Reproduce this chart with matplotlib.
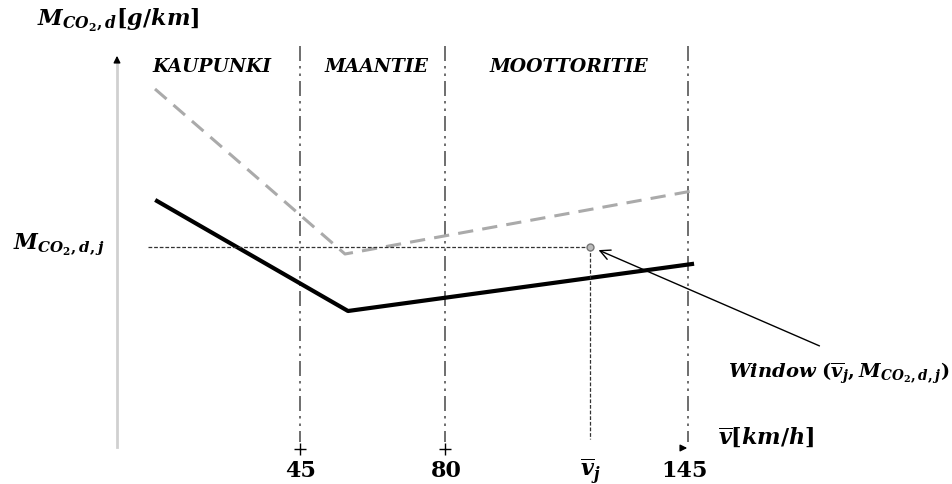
import matplotlib.pyplot as plt

plt.rcParams["mathtext.fontset"] = "custom"
plt.rcParams["mathtext.it"] = "DejaVu Serif:italic:bold"
plt.rcParams["mathtext.rm"] = "DejaVu Serif:bold"
plt.rcParams["mathtext.bf"] = "DejaVu Serif:bold"

# ── Schematic geometry (picture coordinates, y grows downward) ─────────────
zone_x = [300, 445, 688]                 # 45, 80, 145 km/h boundaries
zone_names = ["KAUPUNKI", "MAANTIE", "MOOTTORITIE"]
zone_label_x = [212, 376, 569]
tick_x = [301, 446, 590, 685]
tick_labels = ["45", "80", r"$\overline{v}_j$", "145"]

solid_x = [157, 348, 692]
solid_y = [202, 312, 265]
dashed_x = [155, 345, 692]
dashed_y = [90, 255, 192]

vj_x = 590
m_j_y = 248

fig = plt.figure(figsize=(9.52, 4.85), dpi=100)
ax = fig.add_axes([0, 0, 1, 1])
ax.set_xlim(0, 952)
ax.set_ylim(485, 0)
ax.axis("off")

serif = "DejaVu Serif"

# y axis
ax.plot([117, 117], [448, 62], color="#d0d0d0", lw=2)
ax.annotate("", xy=(117, 54), xytext=(117, 66),
            arrowprops=dict(arrowstyle="-|>", color="black", lw=1, mutation_scale=10))
ax.text(37, 20, r"$M_{CO_2,d}[g/km]$", fontsize=16, va="center", ha="left")

# zone boundaries
for x in zone_x:
    ax.plot([x, x], [47, 443], color="#555555", lw=1.2,
            linestyle=(0, (9, 3, 1.5, 3, 1.5, 3)))
for x in zone_x[:2]:
    ax.plot(x, 450, marker="+", color="black", ms=8, mew=1)
ax.annotate("", xy=(690, 449), xytext=(678, 449),
            arrowprops=dict(arrowstyle="-|>", color="black", lw=1, mutation_scale=10))

for x, name in zip(zone_label_x, zone_names):
    ax.text(x, 67, name, fontsize=13.5, family=serif, weight="bold",
            style="italic", ha="center", va="center")

# curves
ax.plot(dashed_x, dashed_y, color="#aaaaaa", lw=2.2, linestyle=(0, (5, 3)))
ax.plot(solid_x, solid_y, color="black", lw=3)

# reference point
ax.plot([148, vj_x], [m_j_y, m_j_y], color="#333333", lw=0.9, linestyle=(0, (3, 1.5)))
ax.plot([vj_x, vj_x], [m_j_y, 440], color="#333333", lw=0.9, linestyle=(0, (3, 1.5)))
ax.plot(vj_x, m_j_y, marker="o", ms=5, mfc="#bbbbbb", mec="#777777", mew=1)
ax.text(13, 245, r"$M_{CO_2,d,j}$", fontsize=15.5, va="center", ha="left")

ax.annotate("", xy=(596, 250), xytext=(822, 348),
            arrowprops=dict(arrowstyle="->", color="black", lw=1, mutation_scale=18))
ax.text(728, 373, r"Window $(\overline{v}_j, M_{CO_2,d,j})$", fontsize=14,
        family=serif, weight="bold", style="italic", va="center", ha="left")

ax.text(718, 437, r"$\overline{v}[km/h]$", fontsize=16, va="center", ha="left")

for x, lab in zip(tick_x, tick_labels):
    ax.text(x, 471, lab, fontsize=16, family=serif, weight="bold",
            ha="center", va="center")

fig.savefig("out.png", dpi=100)
